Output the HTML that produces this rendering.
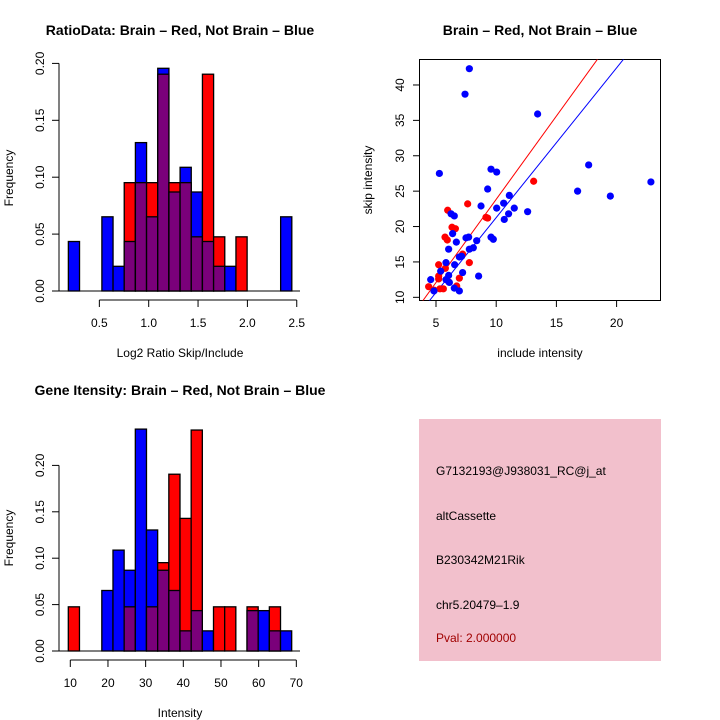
<!DOCTYPE html>
<html><head><meta charset="utf-8"><style>
html,body{margin:0;padding:0;background:#fff}
svg{display:block;font-family:"Liberation Sans",sans-serif}
</style></head><body>
<svg id="s" width="720" height="720" viewBox="0 0 720 720"></svg>
<script>
// ---- Data: Ratio histogram (20 bins) ----
const ratioBreakStart = 0.186;
const ratioBinWidth = 0.1132;
const ratioRed = [0,0,0,0,0,0.0952,0.0952,0.0952,0.1905,0.0952,0.0952,0.0476,0.1905,0.0476,0,0.0476,0,0,0,0];
const ratioBlue = [0.0435,0,0,0.0652,0.0217,0.0435,0.1304,0.0652,0.1957,0.0870,0.1087,0.0870,0.0435,0.0217,0.0217,0,0,0,0,0.0652];
const ratioXTicks = [0.5,1.0,1.5,2.0,2.5];
const freqTicks = [0,0.05,0.10,0.15,0.20];
// ---- Data: Intensity histogram ----
const intBreakStart = 9.47;
const intBinWidth = 2.965;
const intRed = [0.0476,0,0,0,0,0.0476,0,0.0476,0.0952,0.1905,0.1429,0.2381,0,0.0476,0.0476,0,0.0476,0,0.0476,0];
const intBlue = [0,0,0,0.0652,0.1087,0.0870,0.2391,0.1304,0.0870,0.0652,0.0217,0.0435,0.0217,0,0,0,0.0435,0.0435,0.0217,0.0217];
const intXTicks = [10,20,30,40,50,60,70];
// ---- Data: scatter ----
const blueInclude = [7.77,7.41,13.44,5.28,9.57,10.04,9.29,11.09,10.62,11.5,10.04,8.74,12.61,11.03,10.67,6.25,6.52,6.38,6.69,7.49,7.71,9.57,9.76,8.38,8.1,7.77,6.05,6.94,7.13,5.83,6.55,5.39,7.21,8.54,6.05,5.83,4.56,6.11,6.52,6.94,16.76,17.68,19.48,22.85,4.83];
const blueSkip = [42.3,38.7,35.9,27.5,28.1,27.7,25.3,24.4,23.3,22.6,22.6,22.9,22.1,21.8,21.0,21.8,21.5,19.0,17.8,18.4,18.5,18.5,18.2,18.0,17.0,16.8,16.8,15.7,15.8,14.9,14.6,13.7,13.5,13.0,13.1,12.5,12.5,12.1,11.3,10.9,25.0,28.7,24.3,26.3,10.9];
const redInclude = [7.63,5.97,9.15,9.29,13.11,6.33,6.61,5.75,5.94,7.21,7.77,5.22,5.78,5.22,5.22,6.94,6.05,6.72,4.39,4.86,5.33,5.61];
const redSkip = [23.2,22.3,21.3,21.2,26.4,19.9,19.7,18.5,18.1,16.1,14.9,14.6,14.1,13.0,12.6,12.7,12.2,11.6,11.5,11.0,11.2,11.2];
const redFit = [0.33, 2.352];
const blueFit = [0.10, 2.116];
const scXTicks = [5,10,15,20];
const scYTicks = [10,15,20,25,30,35,40];

const NS="http://www.w3.org/2000/svg";
const svg=document.getElementById('s');
function mk(tag,attrs,parent){const e=document.createElementNS(NS,tag);for(const k in attrs)e.setAttribute(k,attrs[k]);(parent||svg).appendChild(e);return e;}
function txt(x,y,s,opts){const t=mk('text',Object.assign({x:x,y:y,'text-anchor':'middle','font-size':12,fill:'#000'},opts||{}));t.textContent=s;return t;}

function hist(g, red, blue, bs, bw, xs, ys){
  for(let i=0;i<red.length;i++){
    const x0=xs(bs+i*bw), x1=xs(bs+(i+1)*bw);
    const r=red[i], b=blue[i], m=Math.min(r,b), M=Math.max(r,b);
    if(M<=0) continue;
    const topColor = r>=b ? '#ff0000' : '#0000ff';
    const bar=mk('rect',{x:x0,y:ys(M),width:x1-x0,height:ys(0)-ys(M),fill:topColor,stroke:'#000','stroke-width':1.3},g);
    
    
    if(m>0){
      const p=mk('rect',{x:x0,y:ys(m),width:x1-x0,height:ys(0)-ys(m),fill:'#7a007a',stroke:'#000','stroke-width':1.3},g);
      
      
    }
  }
}
function yAxis(g,x,ys,ticks,fmt){
  mk('line',{x1:x,x2:x,y1:ys(ticks[0]),y2:ys(ticks[ticks.length-1]),stroke:'#000'},g);
  ticks.forEach(t=>{const y=ys(t);mk('line',{x1:x,x2:x-7,y1:y,y2:y,stroke:'#000'},g);
    txt(x-19,y,fmt(t),{transform:`rotate(-90 ${x-19} ${y})`,'dominant-baseline':'central'});});
}
function xAxis(g,y,xs,ticks,fmt){
  mk('line',{x1:xs(ticks[0]),x2:xs(ticks[ticks.length-1]),y1:y,y2:y,stroke:'#000'},g);
  ticks.forEach(t=>{const x=xs(t);mk('line',{x1:x,x2:x,y1:y,y2:y+7,stroke:'#000'},g);
    txt(x,y+27,fmt(t));});
}

// Panel 1
{
  const g=mk('g',{});
  
  
  const xs=v=>50+v*98.7, ys=v=>291-v*1138;
  hist(g,ratioRed,ratioBlue,ratioBreakStart,ratioBinWidth,xs,ys);
  mk('line',{x1:52,x2:300,y1:ys(0),y2:ys(0),stroke:'#000'},g);
  yAxis(g,59,ys,freqTicks,t=>t.toFixed(2));
  xAxis(g,300,xs,ratioXTicks,t=>t.toFixed(1));
  txt(180,35,'RatioData: Brain – Red, Not Brain – Blue',{'font-weight':'bold','font-size':14});
  txt(180,357,'Log2 Ratio Skip/Include');
  txt(13,178,'Frequency',{transform:'rotate(-90 13 178)'});
}
// Panel 2
{
  const g=mk('g',{});
  
  
  const xs=v=>375.8+v*12.04, ys=v=>368.1-v*7.078;
  mk('rect',{x:419.5,y:59.5,width:241,height:241,fill:'none',stroke:'#000'},g);
  const cp=mk('clipPath',{id:'cp'},g); mk('rect',{x:419.5,y:59.5,width:241,height:241},cp);
  const lg=mk('g',{'clip-path':'url(#cp)'},g);
  [[redFit,'#ff0000'],[blueFit,'#0000ff']].forEach(([f,c])=>{
    const l=mk('line',{x1:xs(0),y1:ys(f[0]),x2:xs(30),y2:ys(f[0]+f[1]*30),stroke:c,'stroke-width':1},lg);
    
    
  });
  redInclude.forEach((v,i)=>{const c=mk('circle',{cx:xs(v),cy:ys(redSkip[i]),r:3.6,fill:'#ff0000'},g);
    
    });
  blueInclude.forEach((v,i)=>{const c=mk('circle',{cx:xs(v),cy:ys(blueSkip[i]),r:3.6,fill:'#0000ff'},g);
    
    });
  scXTicks.forEach(t=>{const x=xs(t);mk('line',{x1:x,x2:x,y1:300.5,y2:307,stroke:'#000'},g);txt(x,327,String(t));});
  scYTicks.forEach(t=>{const y=ys(t);mk('line',{x1:419.5,x2:413,y1:y,y2:y,stroke:'#000'},g);
    txt(400,y,String(t),{transform:`rotate(-90 400 ${y})`,'dominant-baseline':'central'});});
  txt(540,35,'Brain – Red, Not Brain – Blue',{'font-weight':'bold','font-size':14});
  txt(540,357,'include intensity');
  txt(372,180,'skip intensity',{transform:'rotate(-90 372 180)'});
}
// Panel 3
{
  const g=mk('g',{});
  
  
  const xs=v=>70.3+(v-10)*3.767, ys=v=>651-v*928;
  hist(g,intRed,intBlue,intBreakStart,intBinWidth,xs,ys);
  mk('line',{x1:52,x2:300,y1:ys(0),y2:ys(0),stroke:'#000'},g);
  yAxis(g,59,ys,freqTicks,t=>t.toFixed(2));
  xAxis(g,660,xs,intXTicks,t=>String(t));
  txt(180,395,'Gene Itensity: Brain – Red, Not Brain – Blue',{'font-weight':'bold','font-size':14});
  txt(180,717,'Intensity');
  txt(13,538,'Frequency',{transform:'rotate(-90 13 538)'});
}
// Panel 4
{
  const g=mk('g',{});
  
  
  mk('rect',{x:419,y:419,width:242,height:242,fill:'#f2c0cc'},g);
  const lines=[['G7132193@J938031_RC@j_at',475,'#000'],['altCassette',520,'#000'],['B230342M21Rik',564,'#000'],['chr5.20479–1.9',609,'#000'],['Pval: 2.000000',642,'#a00000']];
  lines.forEach(([s,y,c])=>{const t=txt(436,y,s,{'text-anchor':'start',fill:c});
    
    });
}
</script>
</body></html>
